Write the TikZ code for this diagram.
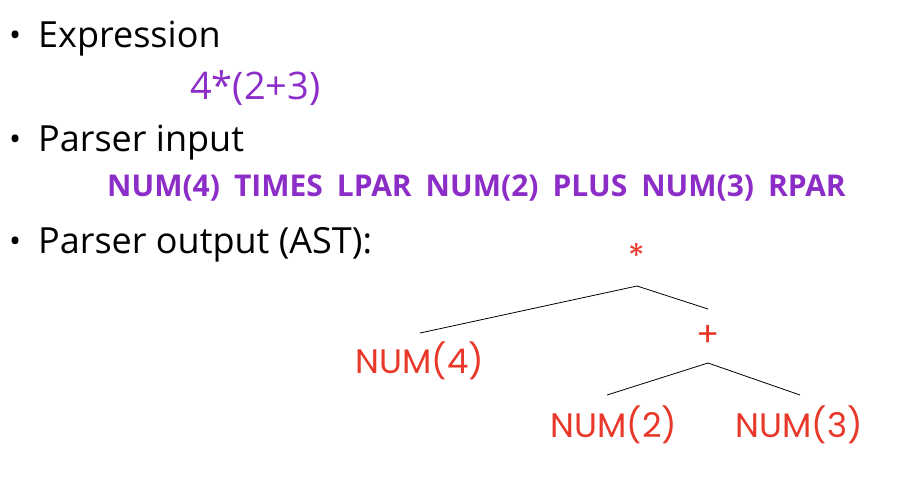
\documentclass[tikz,border=0pt]{standalone}
\usepackage{fontspec}
\setmainfont{Open Sans}
\newfontfamily\treefont{Poppins}
\definecolor{tokpurple}{RGB}{140,45,200}
\definecolor{astred}{RGB}{232,56,42}

\begin{document}
\begin{tikzpicture}[x=1pt,y=-1pt,
    item/.style={anchor=base west,inner sep=0pt,font=\fontsize{36}{40}\selectfont},
    bul/.style={anchor=base west,inner sep=0pt,font=\fontsize{32}{34}\selectfont},
    code/.style={anchor=base west,inner sep=0pt,text=tokpurple},
    ast/.style={inner sep=0pt,text=astred,font=\treefont\fontsize{34}{36}\selectfont}]
\useasboundingbox (0,0) rectangle (903,479);

% bullet list
\node [bul] (b1) at (9,46) {\textbullet};
\node [item] (expr) at (38,47) {Expression};
\node [code,font=\fontsize{38}{40}\selectfont] (src) at (190,99) {4*(2+3)};
\node [bul] (b2) at (9,150) {\textbullet};
\node [item] (pin) at (38,151) {Parser input};
\node [code,font=\bfseries\fontsize{30}{32}\selectfont] (toks) at (107,196)
    {NUM(4)\hspace{14pt}TIMES\hspace{14pt}LPAR\hspace{14pt}NUM(2)\hspace{14pt}PLUS\hspace{14pt}NUM(3)\hspace{14pt}RPAR};
\node [bul] (b3) at (9,252) {\textbullet};
\node [item] (pout) at (38,253) {Parser output (AST):};

% the tree
\node [ast] (times) at (637,256) {*};
\node [ast] (n4) at (420,361) {NUM(4)};
\node [ast] (plus) at (708,336) {+};
\node [ast] (n2) at (614,425) {NUM(2)};
\node [ast] (n3) at (799,425) {NUM(3)};

\coordinate (tj) at (637,286);
\coordinate (pj) at (708,363);
\draw [line width=0.8pt] (tj) -- (n4.north |- 0,333);
\draw [line width=0.8pt] (tj) -- (plus.north |- 0,309);
\draw [line width=0.8pt] (pj) -- (607,395) coordinate (n2top);
\draw [line width=0.8pt] (pj) -- (800,395) coordinate (n3top);

\end{tikzpicture}
\end{document}
